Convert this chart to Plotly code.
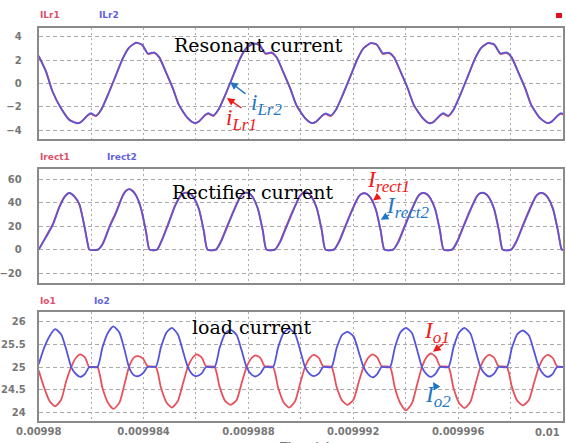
import plotly.graph_objects as go

# Time window shown on every panel (s)
T0 = 0.00998
T1 = 0.01

# ---- Resonant current (A); time given as microseconds after T0 ----
t_lr_us = [
    0.00, 0.28, 0.53, 0.85, 1.17, 1.46,
    1.61, 1.88, 1.99, 2.18, 2.38, 2.64, 2.95, 3.21, 3.44, 3.71, 3.94, 4.17, 4.40, 4.59, 4.85, 5.12, 5.35, 5.69, 5.94,
    6.09, 6.36, 6.47, 6.66, 6.86, 7.12, 7.43, 7.69, 7.92, 8.19, 8.42, 8.65, 8.88, 9.07, 9.33, 9.60, 9.83, 10.17, 10.42,
    10.57, 10.84, 10.95, 11.14, 11.34, 11.60, 11.91, 12.17, 12.40, 12.67, 12.90, 13.13, 13.36, 13.55, 13.81, 14.08, 14.31, 14.65, 14.90,
    15.05, 15.32, 15.43, 15.62, 15.82, 16.08, 16.39, 16.65, 16.88, 17.15, 17.38, 17.61, 17.84, 18.03, 18.29, 18.56, 18.79, 19.13, 19.40,
    19.55, 19.82, 19.93, 20.00,
]
ilr1 = [
    2.33, 1.02, -0.70, -2.12, -3.12, -3.40,
    -3.31, -2.74, -2.62, -2.81, -2.26, -0.97, 0.73, 2.16, 3.05, 3.47, 3.30, 2.52, 2.61, 2.25, 0.97, -0.45, -1.87, -3.00, -3.39,
    -3.29, -2.72, -2.61, -2.80, -2.23, -0.96, 0.74, 2.17, 3.03, 3.41, 3.28, 2.53, 2.62, 2.23, 0.95, -0.47, -1.88, -3.01, -3.40,
    -3.30, -2.74, -2.63, -2.81, -2.25, -0.97, 0.72, 2.15, 3.04, 3.44, 3.30, 2.52, 2.60, 2.24, 0.96, -0.46, -1.86, -2.99, -3.41,
    -3.31, -2.75, -2.62, -2.82, -2.26, -0.98, 0.73, 2.16, 3.05, 3.45, 3.31, 2.52, 2.61, 2.25, 0.97, -0.45, -1.87, -3.00, -3.40,
    -3.30, -2.74, -2.61, -2.66,
]
ilr2 = [
    2.35, 0.99, -0.72, -2.14, -3.14, -3.42,
    -3.33, -2.71, -2.56, -2.77, -2.28, -1.00, 0.71, 2.14, 3.04, 3.48, 3.33, 2.56, 2.65, 2.27, 0.99, -0.43, -1.85, -2.99, -3.40,
    -3.31, -2.68, -2.55, -2.75, -2.25, -0.98, 0.72, 2.15, 3.02, 3.42, 3.30, 2.58, 2.66, 2.25, 0.97, -0.45, -1.86, -3.00, -3.41,
    -3.32, -2.70, -2.57, -2.76, -2.27, -0.99, 0.70, 2.13, 3.03, 3.45, 3.32, 2.57, 2.64, 2.26, 0.98, -0.44, -1.84, -2.98, -3.42,
    -3.33, -2.71, -2.56, -2.77, -2.28, -1.00, 0.71, 2.14, 3.04, 3.46, 3.33, 2.57, 2.65, 2.27, 0.99, -0.43, -1.85, -2.99, -3.41,
    -3.32, -2.70, -2.56, -2.62,
]

# ---- Rectifier current (A) ----
t_rect_us = [
    0.00, 0.28, 0.53, 0.79, 0.98, 1.17, 1.36, 1.55, 1.74, 1.87, 1.93,
    2.26, 2.45, 2.70, 2.96, 3.21, 3.34, 3.46, 3.59, 3.72, 3.91, 4.10, 4.23,
    4.51, 4.70, 4.95, 5.21, 5.45, 5.56, 5.67, 5.79, 5.92, 6.11, 6.30, 6.44,
    6.76, 6.95, 7.20, 7.46, 7.70, 7.81, 7.92, 8.04, 8.17, 8.36, 8.55, 8.69,
    9.01, 9.20, 9.45, 9.71, 9.95, 10.06, 10.17, 10.29, 10.42, 10.61, 10.80, 10.94,
    11.26, 11.45, 11.70, 11.96, 12.20, 12.31, 12.42, 12.54, 12.67, 12.86, 13.05, 13.19,
    13.52, 13.71, 13.96, 14.22, 14.46, 14.57, 14.68, 14.80, 14.93, 15.12, 15.31, 15.45,
    15.77, 15.96, 16.21, 16.47, 16.71, 16.82, 16.93, 17.05, 17.18, 17.37, 17.56, 17.70,
    18.02, 18.21, 18.46, 18.72, 18.96, 19.07, 19.18, 19.30, 19.43, 19.62, 19.81, 19.95, 20.00,
]
irect1 = [
    0.0, 11.4, 21.6, 37.0, 45.3, 48.6, 45.4, 38.8, 20.4, 5.0, 0.0,
    0.0, 5.6, 20.0, 32.8, 46.6, 50.6, 51.8, 50.0, 46.0, 34.6, 14.5, 0.0,
    0.0, 8.6, 22.9, 38.3, 47.3, 48.6, 48.7, 47.6, 44.3, 34.8, 15.8, 0.0,
    0.0, 7.2, 20.8, 34.7, 45.9, 48.1, 48.8, 47.8, 44.6, 35.0, 16.0, 0.0,
    0.0, 6.7, 20.3, 34.2, 45.6, 48.3, 49.2, 48.0, 44.8, 35.3, 16.3, 0.0,
    0.0, 6.9, 20.6, 34.5, 45.4, 47.7, 48.3, 47.2, 44.0, 34.4, 15.6, 0.0,
    0.0, 6.7, 20.4, 34.3, 45.5, 48.0, 48.5, 47.5, 44.3, 34.8, 15.8, 0.0,
    0.0, 7.0, 20.7, 34.6, 45.7, 48.1, 48.6, 47.6, 44.4, 34.9, 15.9, 0.0,
    0.0, 6.8, 20.5, 34.4, 45.6, 48.0, 48.5, 47.4, 44.2, 34.7, 15.7, 0.0, 0.0,
]
irect2 = [
    0.0, 10.7, 20.7, 36.3, 44.8, 48.5, 45.6, 39.1, 20.7, 5.1, 0.0,
    0.0, 5.0, 19.2, 32.0, 46.2, 50.5, 51.9, 50.2, 46.2, 34.9, 14.7, 0.0,
    0.0, 7.9, 22.1, 37.7, 47.0, 48.5, 48.8, 47.8, 44.5, 35.0, 16.0, 0.0,
    0.0, 6.5, 20.0, 34.0, 45.5, 48.0, 48.9, 48.0, 44.8, 35.2, 16.2, 0.0,
    0.0, 6.0, 19.5, 33.5, 45.2, 48.2, 49.3, 48.2, 45.0, 35.5, 16.5, 0.0,
    0.0, 6.2, 19.8, 33.8, 45.0, 47.6, 48.4, 47.4, 44.2, 34.6, 15.8, 0.0,
    0.0, 6.0, 19.6, 33.6, 45.1, 47.9, 48.6, 47.7, 44.5, 35.0, 16.0, 0.0,
    0.0, 6.3, 19.9, 33.9, 45.3, 48.0, 48.7, 47.8, 44.6, 35.1, 16.1, 0.0,
    0.0, 6.1, 19.7, 33.7, 45.2, 47.9, 48.6, 47.6, 44.4, 34.9, 15.9, 0.0, 0.0,
]

# ---- Load current (A) ----
t_o_us = [
    0.00, 0.21, 0.42, 0.63, 0.86, 1.05, 1.24, 1.43, 1.58, 1.77, 1.93,
    2.24, 2.43, 2.64, 2.85, 3.08, 3.27, 3.46, 3.65, 3.80, 3.99, 4.15,
    4.47, 4.66, 4.87, 5.08, 5.31, 5.50, 5.69, 5.88, 6.03, 6.22, 6.38,
    6.71, 6.90, 7.11, 7.32, 7.55, 7.74, 7.93, 8.12, 8.27, 8.46, 8.62,
    8.94, 9.13, 9.34, 9.55, 9.78, 9.97, 10.16, 10.35, 10.50, 10.69, 10.85,
    11.17, 11.36, 11.57, 11.78, 12.01, 12.20, 12.39, 12.58, 12.73, 12.92, 13.08,
    13.40, 13.59, 13.80, 14.01, 14.24, 14.43, 14.62, 14.81, 14.96, 15.15, 15.31,
    15.63, 15.82, 16.03, 16.24, 16.47, 16.66, 16.85, 17.04, 17.19, 17.38, 17.54,
    17.86, 18.05, 18.26, 18.47, 18.70, 18.89, 19.08, 19.27, 19.42, 19.61, 19.77, 20.00,
]
io1 = [
    24.92, 24.54, 24.24, 24.13, 24.28, 24.69, 25.00, 25.21, 25.28, 25.21, 25.00,
    25.00, 24.54, 24.21, 24.07, 24.21, 24.61, 25.03, 25.22, 25.24, 25.18, 25.02,
    25.00, 24.55, 24.22, 24.10, 24.25, 24.63, 25.00, 25.21, 25.28, 25.21, 25.02,
    25.00, 24.56, 24.25, 24.16, 24.27, 24.64, 25.00, 25.20, 25.26, 25.20, 25.02,
    25.00, 24.55, 24.22, 24.10, 24.24, 24.63, 25.00, 25.21, 25.27, 25.20, 25.02,
    25.00, 24.57, 24.26, 24.16, 24.28, 24.65, 25.00, 25.21, 25.28, 25.21, 25.02,
    25.00, 24.53, 24.19, 24.04, 24.20, 24.60, 25.00, 25.23, 25.30, 25.22, 25.02,
    25.00, 24.54, 24.21, 24.09, 24.23, 24.62, 25.00, 25.21, 25.27, 25.20, 25.02,
    25.00, 24.56, 24.25, 24.15, 24.27, 24.64, 25.00, 25.21, 25.27, 25.20, 25.02, 25.00,
]
io2 = [
    25.06, 25.43, 25.69, 25.84, 25.72, 25.39, 25.00, 24.84, 24.78, 24.85, 25.00,
    25.00, 25.43, 25.76, 25.90, 25.76, 25.39, 24.97, 24.81, 24.80, 24.87, 25.00,
    25.01, 25.43, 25.76, 25.87, 25.72, 25.36, 25.00, 24.83, 24.80, 24.86, 25.00,
    25.00, 25.42, 25.74, 25.83, 25.71, 25.37, 25.00, 24.83, 24.79, 24.86, 25.00,
    25.00, 25.43, 25.75, 25.85, 25.73, 25.38, 25.00, 24.84, 24.80, 24.86, 25.00,
    25.00, 25.41, 25.71, 25.78, 25.68, 25.35, 25.00, 24.83, 24.77, 24.85, 25.00,
    25.00, 25.44, 25.77, 25.87, 25.75, 25.39, 25.00, 24.83, 24.78, 24.86, 25.00,
    25.00, 25.43, 25.76, 25.87, 25.74, 25.38, 25.00, 24.84, 24.79, 24.86, 25.00,
    25.00, 25.42, 25.73, 25.81, 25.70, 25.36, 25.00, 24.83, 24.78, 24.85, 25.00, 25.00,
]

# Axis ticks (the last label is placed flush with the right frame separately)
x_tick_vals = [0.00998, 0.009982, 0.009984, 0.009986, 0.009988, 0.00999,
               0.009992, 0.009994, 0.009996, 0.009998, 0.01]
x_tick_text = ["0.00998", "", "0.009984", "", "0.009988", "",
               "0.009992", "", "0.009996", "", ""]
x_end_label = "0.01"
y_ranges = [[-4.77, 4.77], [-28.3, 68.8], [23.81, 26.22]]
y_dticks = [2, 20, 0.5]

# Series names shown above each panel
names_lr = ["ILr1", "ILr2"]
names_rect = ["Irect1", "Irect2"]
names_o = ["Io1", "Io2"]
panel_titles = ["Resonant current", "Rectifier current", "load current"]

W, H = 566, 443
RED = "#E8505C"
BLUE = "#5454DC"
ANN_RED = "#F21818"
ANN_BLUE = "#1F76C6"
GRID = "#ababab"
FRAME = "#8a8a8a"
TICK_FONT = dict(family="DejaVu Sans", size=10, color="#777777", weight="bold")


def secs(us):
    return [T0 + u * 1e-6 for u in us]


def px_x(p):
    return p / W


def px_y(p):
    return 1 - p / H


x_dom = [px_x(38.7), px_x(563)]
y_doms = [[px_y(139), px_y(27.7)], [px_y(282.7), px_y(169.3)], [px_y(420.7), px_y(312)]]

fig = go.Figure()
series = [
    (t_lr_us, ilr1, ilr2, names_lr),
    (t_rect_us, irect1, irect2, names_rect),
    (t_o_us, io1, io2, names_o),
]
for i, (tu, s1, s2, nm) in enumerate(series):
    ax = "" if i == 0 else str(i + 1)
    ts = secs(tu)
    blue_op = 0.92 if i < 2 else 1.0
    fig.add_trace(go.Scatter(x=ts, y=s1, name=nm[0], mode="lines",
                             line=dict(color=RED, width=1.8, shape="spline", smoothing=0.6),
                             xaxis="x" + ax, yaxis="y" + ax, showlegend=False))
    fig.add_trace(go.Scatter(x=ts, y=s2, name=nm[1], mode="lines", opacity=blue_op,
                             line=dict(color=BLUE, width=1.8, shape="spline", smoothing=0.6),
                             xaxis="x" + ax, yaxis="y" + ax, showlegend=False))

layout = dict(
    width=W, height=H,
    margin=dict(l=0, r=0, t=0, b=0),
    paper_bgcolor="white", plot_bgcolor="white",
    showlegend=False,
)
for i in range(3):
    ax = "" if i == 0 else str(i + 1)
    layout["xaxis" + ax] = dict(
        domain=x_dom, range=[T0, T1], anchor="y" + ax,
        tickmode="array", tickvals=x_tick_vals, ticktext=x_tick_text,
        showticklabels=(i == 2), tickfont=TICK_FONT, ticks="",
        showgrid=True, gridcolor=GRID, gridwidth=1, griddash="2px,3px",
        zeroline=False, showline=True, mirror=True, linecolor=FRAME, linewidth=2,
        automargin=False,
    )
    layout["yaxis" + ax] = dict(
        domain=y_doms[i], range=y_ranges[i], anchor="x" + ax,
        tickmode="linear", tick0=0, dtick=y_dticks[i],
        tickfont=TICK_FONT, ticks="",
        ticklabelstandoff=(9 if i == 2 else 13),
        showgrid=True, gridcolor=GRID, gridwidth=1, griddash="4px,3px",
        zeroline=False, showline=True, mirror=True, linecolor=FRAME, linewidth=2,
        automargin=False,
    )

annotations = []
# Series names above each panel
label_rows = [(15, names_lr, 97), (157, names_rect, 105), (301, names_o, 92)]
for ypix, nm, x2 in label_rows:
    for name, xp, col in [(nm[0], 38, "#E0506A"), (nm[1], x2, "#6262E0")]:
        annotations.append(dict(
            text=name, x=px_x(xp), y=px_y(ypix), xref="paper", yref="paper",
            xanchor="left", yanchor="middle", showarrow=False,
            font=dict(family="DejaVu Sans", size=9, color=col, weight="bold"),
        ))

# Panel titles
for title, xp, yp in zip(panel_titles, [172, 170, 190], [45, 191.7, 327.3]):
    annotations.append(dict(
        text=title, x=px_x(xp), y=px_y(yp), xref="paper", yref="paper",
        xanchor="left", yanchor="middle", showarrow=False,
        font=dict(family="DejaVu Serif", size=19, color="black"),
    ))

# Right-most time label, kept inside the frame
annotations.append(dict(
    text=x_end_label, x=T1, y=px_y(432), xref="x3", yref="paper",
    xanchor="right", yanchor="middle", xshift=-1, showarrow=False, font=TICK_FONT,
))


def arrow(axn, x_us, y, dx, dy, col):
    return dict(text="", x=T0 + x_us * 1e-6, y=y, xref="x" + axn, yref="y" + axn,
                ax=dx, ay=dy, showarrow=True, arrowhead=2, arrowsize=1.1,
                arrowwidth=1.4, arrowcolor=col, standoff=0)


def label(axn, x_us, y, main, sub, col):
    txt = "<i>%s<sub><span style='font-size:17px'>%s</span></sub></i>" % (main, sub)
    return dict(text=txt, x=T0 + x_us * 1e-6, y=y, xref="x" + axn, yref="y" + axn,
                xanchor="center", yanchor="middle", showarrow=False,
                font=dict(family="Liberation Serif", size=23, color=col))


annotations += [
    arrow("", 7.30, 0.11, 17, 13, ANN_BLUE),
    arrow("", 7.18, -1.26, 16, 11, ANN_RED),
    label("", 8.70, -1.77, "i", "Lr2", ANN_BLUE),
    label("", 7.75, -3.14, "i", "Lr1", ANN_RED),
    arrow("2", 12.75, 42.0, 8, -6, ANN_RED),
    arrow("2", 13.05, 25.5, 10, -6, ANN_BLUE),
    label("2", 13.35, 58.5, "I", "rect1", ANN_RED),
    label("2", 14.05, 36.0, "I", "rect2", ANN_BLUE),
    arrow("3", 15.04, 25.34, 12, -9, ANN_RED),
    arrow("3", 15.04, 24.67, 5, 8, ANN_BLUE),
    label("3", 15.20, 25.76, "I", "o1", ANN_RED),
    label("3", 15.22, 24.34, "I", "o2", ANN_BLUE),
]

# Axis caption below the bottom panel (falls mostly past the page edge)
annotations.append(dict(
    text="Time (s)", x=px_x(305), y=px_y(438), xref="paper", yref="paper",
    xanchor="center", yanchor="top", showarrow=False,
    font=dict(family="DejaVu Sans", size=11, color="#777777", weight="bold"),
))
layout["annotations"] = annotations

# Small red marker at the top-right corner
layout["shapes"] = [dict(type="rect", xref="paper", yref="paper",
                         x0=px_x(556), x1=px_x(562), y0=px_y(18), y1=px_y(13),
                         fillcolor="#E0101C", line=dict(width=0))]

fig.update_layout(**layout)
fig.write_html("out.html")
